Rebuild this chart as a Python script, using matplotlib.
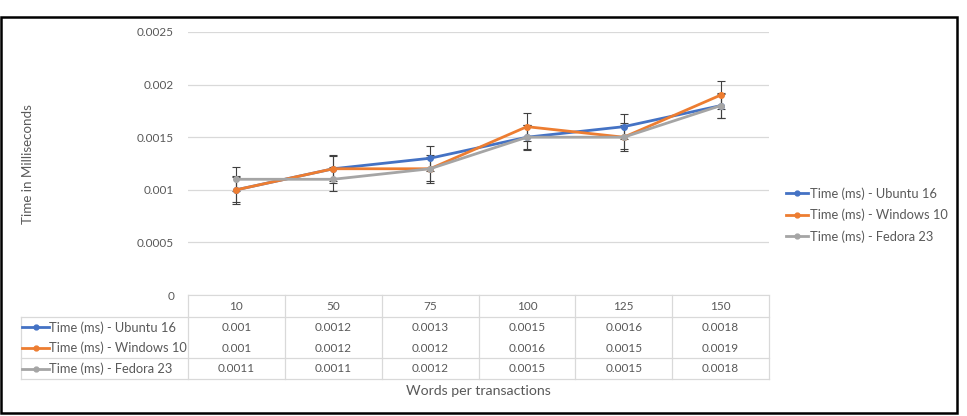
import numpy as np
import matplotlib.pyplot as plt
from matplotlib.transforms import blended_transform_factory
from matplotlib.lines import Line2D
from matplotlib.patches import Rectangle

# data
words = ['10', '50', '75', '100', '125', '150']
ubuntu = [0.001, 0.0012, 0.0013, 0.0015, 0.0016, 0.0018]
windows = [0.001, 0.0012, 0.0012, 0.0016, 0.0015, 0.0019]
fedora = [0.0011, 0.0011, 0.0012, 0.0015, 0.0015, 0.0018]
names = ['Time (ms) - Ubuntu 16', 'Time (ms) - Windows 10', 'Time (ms) - Fedora 23']
colors = ['#4472C4', '#ED7D31', '#A5A5A5']
y_ticks = [0, 0.0005, 0.001, 0.0015, 0.002, 0.0025]
y_labels = ['0', '0.0005', '0.001', '0.0015', '0.002', '0.0025']

plt.rcParams['font.family'] = ['Lato', 'DejaVu Sans']
txt = '#595959'
grid = '#D9D9D9'
fs = 8.5      # numbers
fs_lab = 9.3  # series names

W, H = 967, 416
fig = plt.figure(figsize=(W / 100, H / 100), dpi=100)
ax = fig.add_axes([188 / W, 1 - 295 / H, 581 / W, 263 / H])

x = np.arange(len(words))
series = [ubuntu, windows, fedora]
handles = []
for vals, name, c in zip(series, names, colors):
    v = np.array(vals)
    se = v.std(ddof=1) / np.sqrt(len(v))   # excel "standard error" bars
    ax.errorbar(x, v, yerr=se, color=c, lw=2.0, marker='o', ms=4,
                ecolor='#404040', elinewidth=0.8, capsize=2.8, capthick=0.8,
                zorder=3)
    handles.append(Line2D([], [], color=c, lw=2.0, marker='o', ms=3.5))

ax.set_xlim(-0.5, len(words) - 0.5)
ax.set_ylim(0, 0.0025)
ax.set_yticks(y_ticks, y_labels)
ax.set_xticks([])
ax.tick_params(axis='y', length=0, pad=10, labelcolor=txt, labelsize=fs)
ax.yaxis.grid(True, color=grid, lw=0.9)
ax.set_axisbelow(True)
for s in ['left', 'right', 'top']:
    ax.spines[s].set_visible(False)
ax.spines['bottom'].set_color(grid)

# data table under the plot
tr = blended_transform_factory(ax.transData, ax.transAxes)
px = 1 / 263
colw = 581 / len(words)
hdr = -22 * px
rowh = -20.7 * px
bottom = hdr + 3 * rowh
x_left = -0.5 - 167 / colw

for k in range(len(words) + 1):
    ax.plot([k - 0.5, k - 0.5], [0, bottom], color=grid, lw=0.9,
            transform=tr, clip_on=False)
ax.plot([x_left, x_left], [hdr, bottom], color=grid, lw=0.9, transform=tr, clip_on=False)
for yy in [hdr, hdr + 2 * rowh, bottom]:
    ax.plot([x_left, len(words) - 0.5], [yy, yy], color=grid, lw=0.9,
            transform=tr, clip_on=False)

for i, w in enumerate(words):
    ax.text(i, hdr / 2, w, ha='center', va='center', color=txt, fontsize=fs,
            transform=tr)
for r, (vals, name, c) in enumerate(zip(series, names, colors)):
    yc = hdr + (r + 0.5) * rowh
    for i, v in enumerate(vals):
        ax.text(i, yc, f'{v:g}', ha='center', va='center', color=txt,
                fontsize=fs, transform=tr)
    x0 = x_left + 1 / colw
    x1 = x_left + 28 / colw
    ax.plot([x0, x1], [yc, yc], color=c, lw=2.0, transform=tr, clip_on=False)
    ax.plot([(x0 + x1) / 2], [yc], marker='o', ms=3.5, color=c, transform=tr,
            clip_on=False)
    ax.text(x1, yc, name, ha='left', va='center', color=txt, fontsize=fs_lab,
            transform=tr)

ax.legend(handles, names, loc='center left', bbox_to_anchor=(1.029, 0.304),
          frameon=False, borderpad=0, borderaxespad=0, handlelength=1.7,
          handletextpad=0.2, labelspacing=0.68, fontsize=fs_lab, labelcolor=txt)

fig.text(28 / W, 1 - 164 / H, 'Time in Milliseconds', rotation=90,
         ha='center', va='center', color=txt, fontsize=9.6)
fig.text(478 / W, 1 - 391 / H, 'Words per transactions', ha='center',
         va='center', color=txt, fontsize=10.2)

fig.patches.append(Rectangle((1 / W, 1 - 413 / H), 956 / W, 396 / H,
                             transform=fig.transFigure, fill=False,
                             ec='black', lw=1.8))

fig.savefig('out.png', dpi=100)
